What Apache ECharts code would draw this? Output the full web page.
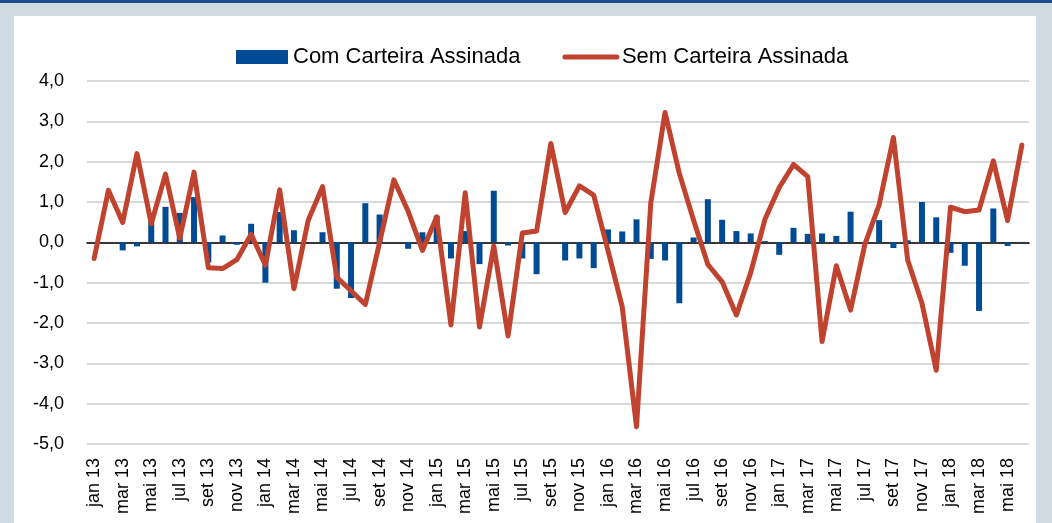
<!DOCTYPE html>
<html>
<head>
<meta charset="utf-8">
<script src="https://cdn.jsdelivr.net/npm/echarts@6/dist/echarts.min.js"></script>
<style>
html,body{margin:0;padding:0;background:#d0dae3;}
#c{width:1052px;height:523px;}
</style>
</head>
<body>
<div id="c"></div>
<script>
const categories = [
 'jan 13','fev 13','mar 13','abr 13','mai 13','jun 13','jul 13','ago 13','set 13','out 13','nov 13','dez 13',
 'jan 14','fev 14','mar 14','abr 14','mai 14','jun 14','jul 14','ago 14','set 14','out 14','nov 14','dez 14',
 'jan 15','fev 15','mar 15','abr 15','mai 15','jun 15','jul 15','ago 15','set 15','out 15','nov 15','dez 15',
 'jan 16','fev 16','mar 16','abr 16','mai 16','jun 16','jul 16','ago 16','set 16','out 16','nov 16','dez 16',
 'jan 17','fev 17','mar 17','abr 17','mai 17','jun 17','jul 17','ago 17','set 17','out 17','nov 17','dez 17',
 'jan 18','fev 18','mar 18','abr 18','mai 18','jun 18'
];
const comCarteira = [
 0, 0, -0.2, -0.1, 0.5, 0.88, 0.73, 1.12, -0.5, 0.17, -0.06, 0.46,
 -1.0, 0.75, 0.3, 0, 0.25, -1.15, -1.38, 0.97, 0.69, 0, -0.16, 0.25,
 0.66, -0.4, 0.28, -0.54, 1.28, -0.08, -0.4, -0.79, 0, -0.45, -0.4, -0.64,
 0.32, 0.27, 0.57, -0.41, -0.45, -1.51, 0.12, 1.07, 0.56, 0.28, 0.22, 0.03,
 -0.31, 0.36, 0.21, 0.22, 0.16, 0.76, 0, 0.55, -0.14, 0.05, 1.0, 0.62,
 -0.26, -0.58, -1.7, 0.84, -0.09, 0.01
];
const semCarteira = [
 -0.4, 1.29, 0.49, 2.2, 0.46, 1.69, 0.1, 1.74, -0.63, -0.65, -0.43, 0.2,
 -0.57, 1.3, -1.15, 0.55, 1.38, -0.87, -1.2, -1.54, 0.0, 1.55, 0.77, -0.2,
 0.63, -2.05, 1.23, -2.1, -0.09, -2.32, 0.23, 0.28, 2.45, 0.74, 1.4, 1.17,
 -0.2, -1.6, -4.57, 0.97, 3.22, 1.71, 0.55, -0.55, -0.98, -1.8, -0.75, 0.57,
 1.36, 1.93, 1.63, -2.46, -0.58, -1.68, -0.05, 0.93, 2.6, -0.44, -1.51, -3.17,
 0.87, 0.76, 0.8, 2.02, 0.54, 2.41
];
const seriesNames = ['Com Carteira Assinada', 'Sem Carteira Assinada'];
const yMin = -5, yMax = 4, yStep = 1;

const FONT = "'Liberation Sans', Arial, sans-serif";
const chart = echarts.init(document.getElementById('c'), null, {renderer: 'canvas'});
chart.setOption({
  backgroundColor: '#d0dae3',
  animation: false,
  graphic: [
    {type: 'rect', shape: {x: 0, y: 0, width: 1052, height: 3}, style: {fill: '#1d4f8e'}, z: -10},
    {type: 'rect', shape: {x: 14, y: 16, width: 1022, height: 507}, style: {fill: '#ffffff'}, z: -10}
  ],
  legend: {
    left: 231, top: 41,
    itemWidth: 52, itemHeight: 14, itemGap: 42,
    textStyle: {fontFamily: FONT, fontSize: 22, color: '#000'},
    data: [
      {name: seriesNames[0], icon: 'rect'},
      {
        name: seriesNames[1],
        itemStyle: {color: 'rgba(0,0,0,0)', borderWidth: 0, opacity: 0},
        lineStyle: {color: '#c0432f', width: 5, cap: 'round'}
      }
    ]
  },
  grid: {left: 87, right: 23, top: 81, bottom: 79, containLabel: false},
  xAxis: {
    type: 'category',
    data: categories,
    boundaryGap: true,
    axisLine: {onZero: true, lineStyle: {color: '#000', width: 1.5}},
    axisTick: {show: false},
    axisLabel: {
      interval: 1, rotate: 90, margin: 14,
      fontFamily: FONT, fontSize: 18, color: '#000'
    },
    splitLine: {show: false}
  },
  yAxis: {
    type: 'value',
    min: yMin, max: yMax, interval: yStep,
    axisLine: {show: false},
    axisTick: {show: false},
    axisLabel: {
      margin: 23, fontFamily: FONT, fontSize: 18, color: '#000',
      formatter: v => v.toFixed(1).replace('.', ',')
    },
    splitLine: {lineStyle: {color: '#d9d9d9', width: 2}}
  },
  series: [
    {
      name: seriesNames[0], type: 'bar', data: comCarteira,
      barWidth: 6, itemStyle: {color: '#004b93'}
    },
    {
      name: seriesNames[1], type: 'line', data: semCarteira,
      symbol: 'none',
      lineStyle: {color: '#c0432f', width: 5, join: 'round', cap: 'round'},
      itemStyle: {color: '#c0432f'}
    }
  ]
});
</script>
</body>
</html>
